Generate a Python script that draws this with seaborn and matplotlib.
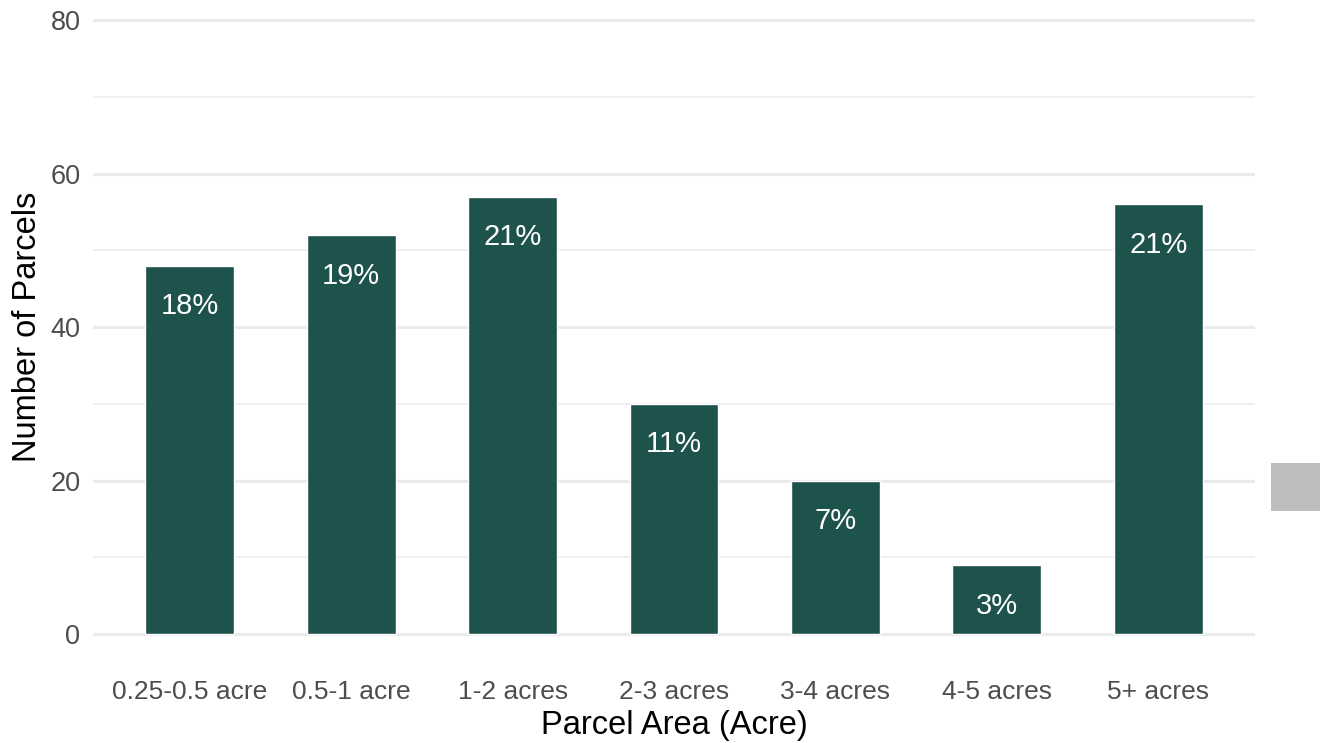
import matplotlib
matplotlib.use("Agg")
import matplotlib.pyplot as plt
from matplotlib.patches import Rectangle
from matplotlib.ticker import MultipleLocator
import seaborn as sns
import pandas as pd

# Parcel counts by size class
categories = ["0.25-0.5 acre", "0.5-1 acre", "1-2 acres", "2-3 acres",
              "3-4 acres", "4-5 acres", "5+ acres"]
counts = [48, 52, 57, 30, 20, 9, 56]
share_labels = ["18%", "19%", "21%", "11%", "7%", "3%", "21%"]

df = pd.DataFrame({"area": categories, "count": counts})

sns.set_theme(style="white")
plt.rcParams["font.family"] = ["Liberation Sans", "DejaVu Sans"]

W, H = 1320, 743
fig = plt.figure(figsize=(W / 100, H / 100), dpi=100)
# axes placed in pixel terms: y=0 at 634px, y=80 at 20px, x range 93..1255px
px_per_unit = (634 - 20) / 80
ymin, ymax = -4, 84
bottom_px = 634 + (0 - ymin) * px_per_unit
top_px = 20 - (ymax - 80) * px_per_unit
ax = fig.add_axes([93 / W, (H - bottom_px) / H, (1255 - 93) / W,
                   (bottom_px - top_px) / H])

sns.barplot(data=df, x="area", y="count", color="#1E524C", saturation=1,
            width=0.55, ax=ax, zorder=2)

for i, (v, lab) in enumerate(zip(counts, share_labels)):
    ax.text(i, v - 5.3, lab, ha="center", va="center", color="white",
            fontsize=21, zorder=3)

ax.set_xlim(-0.6, len(categories) - 0.4)
ax.set_ylim(ymin, ymax)
ax.yaxis.set_major_locator(MultipleLocator(20))
ax.yaxis.set_minor_locator(MultipleLocator(10))
ax.set_yticks([0, 20, 40, 60, 80])
ax.grid(axis="y", which="major", color="#EBEBEB", linewidth=2.2, zorder=0)
ax.grid(axis="y", which="minor", color="#EBEBEB", linewidth=1.1, zorder=0)
ax.grid(axis="x", visible=False)
ax.set_axisbelow(True)
for s in ax.spines.values():
    s.set_visible(False)

ax.tick_params(axis="both", which="both", length=0, labelsize=19,
               labelcolor="#4D4D4D")
ax.tick_params(axis="y", labelsize=19.5, pad=9)
ax.tick_params(axis="x", pad=11)
ax.set_xlabel("Parcel Area (Acre)", fontsize=23.5, color="black", labelpad=4)
ax.set_ylabel("Number of Parcels", fontsize=23.5, color="black", labelpad=5)

# legend key swatch at the right edge
fig.patches.append(Rectangle((1271 / W, (H - 511) / H), 49 / W, 48 / H,
                             transform=fig.transFigure, facecolor="#BEBEBE",
                             edgecolor="none"))

fig.savefig("out.png", dpi=100)
